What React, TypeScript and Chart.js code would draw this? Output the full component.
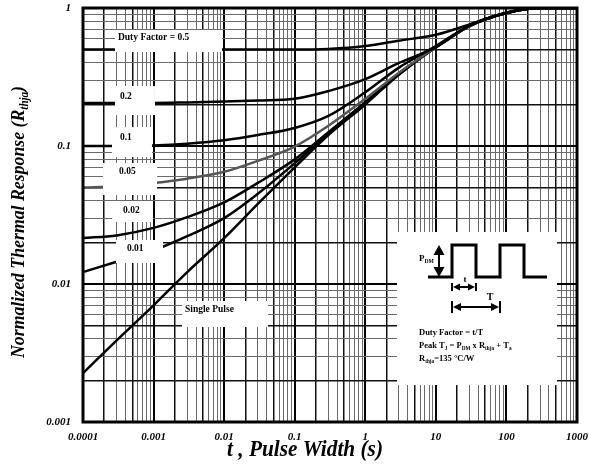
import React, { useEffect, useRef } from 'react';
import { Chart, registerables } from 'chart.js';

Chart.register(...registerables);

// ---------- data ----------
const pulseWidths = [1e-4, 3e-4, 1e-3, 3e-3, 1e-2, 3e-2, 0.1, 0.3, 1, 3, 10, 30, 100, 300, 1000];
const duty05 = [0.5, 0.5, 0.5, 0.5, 0.5, 0.5, 0.5, 0.505, 0.53, 0.58, 0.64, 0.76, 0.93, 1.0, 1.0];
const duty02 = [0.205, 0.205, 0.205, 0.207, 0.21, 0.214, 0.22, 0.25, 0.305, 0.4, 0.52, 0.745, 0.92, 1.0, 1.0];
const duty01 = [0.1, 0.1, 0.101, 0.104, 0.11, 0.12, 0.135, 0.165, 0.245, 0.37, 0.53, 0.745, 0.92, 1.0, 1.0];
const duty005 = [0.05, 0.051, 0.054, 0.058, 0.065, 0.078, 0.099, 0.14, 0.22, 0.34, 0.52, 0.74, 0.92, 1.0, 1.0];
const duty002 = [0.0215, 0.0225, 0.0255, 0.0305, 0.039, 0.054, 0.08, 0.126, 0.208, 0.335, 0.52, 0.74, 0.92, 1.0, 1.0];
const duty001 = [0.0122, 0.0145, 0.0175, 0.0222, 0.03, 0.045, 0.075, 0.122, 0.204, 0.33, 0.52, 0.74, 0.92, 1.0, 1.0];
const singlePulse = [0.00226, 0.0039, 0.007, 0.0122, 0.0215, 0.038, 0.07, 0.12, 0.2, 0.33, 0.52, 0.74, 0.92, 1.0, 1.0];

const seriesNames = ['Duty Factor = 0.5', '0.2', '0.1', '0.05', '0.02', '0.01', 'Single Pulse'];
const seriesValues = [duty05, duty02, duty01, duty005, duty002, duty001, singlePulse];
const seriesColors = ['#000', '#000', '#000', '#555', '#000', '#000', '#000'];

const xDecades = [1e-4, 1e-3, 1e-2, 0.1, 1, 10, 100, 1000];
const xTickLabels = ['0.0001', '0.001', '0.01', '0.1', '1', '10', '100', '1000'];
const yDecades = [0.001, 0.01, 0.1, 1];
const yTickLabels = ['0.001', '0.01', '0.1', '1'];

// label anchors in data space (t, r) with box offsets in px
const curveLabels = [
  { text: 'Duty Factor = 0.5', t: 3.13e-4, r: 0.606, box: [-3, -8, 107, 22] },
  { text: '0.2', t: 3.34e-4, r: 0.2265, box: [-5, -11, 40, 29] },
  { text: '0.1', t: 3.34e-4, r: 0.116, box: [-8, -10, 40, 30] },
  { text: '0.05', t: 3.24e-4, r: 0.0648, box: [-16, -9, 54, 32] },
  { text: '0.02', t: 3.69e-4, r: 0.0338, box: [-11, -10, 41, 21] },
  { text: '0.01', t: 4.2e-4, r: 0.01794, box: [-11, -9, 47, 23] },
  { text: 'Single Pulse', t: 2.79e-3, r: 0.00648, box: [-3, -9, 86, 26] },
];
const insetAnchor = { t: 2.815, r: 0.0238 };

const SERIF = "'Liberation Serif', 'Times New Roman', serif";

// ---------- helpers ----------
const mantissa = (v: number) => Math.round(v / Math.pow(10, Math.floor(Math.log10(v) + 1e-9)));
const gridTicks = (decades: number[]) => {
  const out: number[] = [];
  for (let i = 0; i < decades.length - 1; i++) {
    for (let m = 1; m <= 9; m++) out.push(Number((m * decades[i]).toPrecision(6)));
  }
  out.push(decades[decades.length - 1]);
  return out;
};
const labelFor = (decades: number[], labels: string[]) => (value: any) => {
  const v = Number(value);
  const i = decades.findIndex((d) => Math.abs(d - v) / d < 1e-6);
  return i >= 0 ? labels[i] : '';
};
const gridColor = (ctx: any) => {
  const m = mantissa(ctx.tick.value);
  if (m === 1) return '#000';
  if (m === 2 || m === 5) return '#111';
  return '#6a6a6a';
};
const gridWidth = (ctx: any) => {
  const m = mantissa(ctx.tick.value);
  if (m === 1) return 2;
  if (m === 2 || m === 5) return 1.5;
  return 1;
};

type Part = [string, boolean];
const richWidth = (ctx: CanvasRenderingContext2D, parts: Part[], size: number, pre: string) => {
  let w = 0;
  for (const [txt, sub] of parts) {
    ctx.font = `${pre} ${sub ? size * 0.62 : size}px ${SERIF}`;
    w += ctx.measureText(txt).width;
  }
  return w;
};
const drawRich = (ctx: CanvasRenderingContext2D, parts: Part[], x: number, y: number, size: number, pre: string) => {
  ctx.textAlign = 'left';
  ctx.textBaseline = 'alphabetic';
  let cx = x;
  for (const [txt, sub] of parts) {
    const s = sub ? size * 0.62 : size;
    ctx.font = `${pre} ${s}px ${SERIF}`;
    ctx.fillText(txt, cx, sub ? y + size * 0.22 : y);
    cx += ctx.measureText(txt).width;
  }
};
const arrowHead = (ctx: CanvasRenderingContext2D, x: number, y: number, dx: number, dy: number, len: number, half: number) => {
  const px = -dy, py = dx;
  ctx.beginPath();
  ctx.moveTo(x, y);
  ctx.lineTo(x - dx * len + px * half, y - dy * len + py * half);
  ctx.lineTo(x - dx * len - px * half, y - dy * len - py * half);
  ctx.closePath();
  ctx.fill();
};

const overlayPlugin = {
  id: 'overlay',
  afterDatasetsDraw(chart: any) {
    const { ctx, chartArea, scales } = chart;
    const xs = scales.x, ys = scales.y;
    ctx.save();
    // curve labels
    for (const lab of curveLabels) {
      const ax = xs.getPixelForValue(lab.t);
      const ay = ys.getPixelForValue(lab.r);
      const [bx, by, bw, bh] = lab.box;
      ctx.fillStyle = '#fff';
      ctx.fillRect(ax + bx, ay + by, bw, bh);
      ctx.fillStyle = '#000';
      ctx.font = `bold 9.5px ${SERIF}`;
      ctx.textAlign = 'left';
      ctx.textBaseline = 'middle';
      ctx.fillText(lab.text, ax, ay);
    }
    // inset
    const ix = xs.getPixelForValue(insetAnchor.t);
    const iy = ys.getPixelForValue(insetAnchor.r);
    ctx.fillStyle = '#fff';
    ctx.fillRect(ix, iy, 160, 153);
    ctx.strokeStyle = '#000';
    ctx.fillStyle = '#000';
    ctx.lineWidth = 3;
    ctx.lineJoin = 'miter';
    ctx.beginPath();
    ctx.moveTo(ix + 31, iy + 45);
    ctx.lineTo(ix + 55, iy + 45);
    ctx.lineTo(ix + 55, iy + 13);
    ctx.lineTo(ix + 79, iy + 13);
    ctx.lineTo(ix + 79, iy + 45);
    ctx.lineTo(ix + 103, iy + 45);
    ctx.lineTo(ix + 103, iy + 13);
    ctx.lineTo(ix + 127, iy + 13);
    ctx.lineTo(ix + 127, iy + 45);
    ctx.lineTo(ix + 150, iy + 45);
    ctx.stroke();
    // P_DM arrow
    ctx.lineWidth = 2;
    ctx.beginPath();
    ctx.moveTo(ix + 42, iy + 20);
    ctx.lineTo(ix + 42, iy + 38);
    ctx.stroke();
    arrowHead(ctx, ix + 42, iy + 13, 0, -1, 10, 5.5);
    arrowHead(ctx, ix + 42, iy + 45, 0, 1, 10, 5.5);
    drawRich(ctx, [['P', false], ['DM', true]], ix + 22, iy + 29, 9, 'bold');
    // t arrow
    ctx.lineWidth = 2;
    ctx.beginPath();
    ctx.moveTo(ix + 55, iy + 51); ctx.lineTo(ix + 55, iy + 59);
    ctx.moveTo(ix + 79, iy + 51); ctx.lineTo(ix + 79, iy + 59);
    ctx.moveTo(ix + 58, iy + 55); ctx.lineTo(ix + 76, iy + 55);
    ctx.stroke();
    arrowHead(ctx, ix + 56, iy + 55, -1, 0, 7, 3.5);
    arrowHead(ctx, ix + 78, iy + 55, 1, 0, 7, 3.5);
    ctx.font = `bold 9px ${SERIF}`;
    ctx.textAlign = 'center';
    ctx.textBaseline = 'middle';
    ctx.fillText('t', ix + 68, iy + 48);
    // T arrow
    ctx.beginPath();
    ctx.moveTo(ix + 55, iy + 69); ctx.lineTo(ix + 55, iy + 81);
    ctx.moveTo(ix + 103, iy + 69); ctx.lineTo(ix + 103, iy + 81);
    ctx.moveTo(ix + 58, iy + 75); ctx.lineTo(ix + 100, iy + 75);
    ctx.stroke();
    arrowHead(ctx, ix + 56, iy + 75, -1, 0, 8, 4);
    arrowHead(ctx, ix + 102, iy + 75, 1, 0, 8, 4);
    ctx.font = `bold 10px ${SERIF}`;
    ctx.textAlign = 'center';
    ctx.fillText('T', ix + 93, iy + 65);
    // inset texts
    drawRich(ctx, [['Duty Factor = t/T', false]], ix + 22, iy + 103, 8.5, 'bold');
    drawRich(ctx, [['Peak T', false], ['J', true], [' = P', false], ['DM', true], [' x R', false], ['thja', true], [' + T', false], ['a', true]], ix + 22, iy + 116, 8.5, 'bold');
    drawRich(ctx, [['R', false], ['thja', true], ['=135 °C/W', false]], ix + 22, iy + 129, 8.5, 'bold');
    // plot border
    ctx.lineWidth = 3;
    ctx.strokeStyle = '#000';
    ctx.strokeRect(chartArea.left, chartArea.top, chartArea.right - chartArea.left, chartArea.bottom - chartArea.top);
    ctx.restore();
  },
  afterDraw(chart: any) {
    const { ctx } = chart;
    ctx.save();
    ctx.fillStyle = '#000';
    const xParts: Part[] = [['t , Pulse Width (s)', false]];
    const xw = richWidth(ctx, xParts, 23, 'italic bold');
    ctx.translate(227, 456);
    ctx.scale(156 / xw, 1);
    drawRich(ctx, xParts, 0, 0, 23, 'italic bold');
    ctx.restore();
    ctx.save();
    ctx.fillStyle = '#000';
    const yParts: Part[] = [['Normalized Thermal Response (R', false], ['thja', true], [')', false]];
    const yw = richWidth(ctx, yParts, 19, 'italic bold');
    ctx.translate(24, 222);
    ctx.rotate(-Math.PI / 2);
    ctx.scale(272 / yw, 1);
    drawRich(ctx, yParts, -yw / 2, 0, 19, 'italic bold');
    ctx.restore();
  },
};

export default function App() {
  const ref = useRef<HTMLCanvasElement | null>(null);
  useEffect(() => {
    const canvas = ref.current;
    if (!canvas) return;
    const chart = new Chart(canvas, {
      type: 'line',
      data: {
        datasets: seriesValues.map((vals, i) => ({
          label: seriesNames[i],
          data: pulseWidths.map((t, j) => ({ x: t, y: vals[j] })),
          borderColor: seriesColors[i],
          borderWidth: 2.5,
          pointRadius: 0,
          fill: false,
          cubicInterpolationMode: 'monotone' as const,
        })),
      },
      options: {
        responsive: false,
        animation: false,
        events: [],
        layout: { padding: { top: 8, right: 13, left: 0, bottom: 0 } },
        plugins: { legend: { display: false }, tooltip: { enabled: false }, title: { display: false } },
        scales: {
          x: {
            type: 'logarithmic',
            min: 1e-4,
            max: 1000,
            afterBuildTicks: (scale: any) => {
              scale.ticks = gridTicks(xDecades).map((v) => ({ value: v }));
            },
            afterFit: (scale: any) => {
              scale.height = 42;
              scale.paddingLeft = 0;
              scale.paddingRight = 0;
            },
            grid: { color: gridColor, lineWidth: gridWidth, drawTicks: false },
            border: { display: false },
            ticks: {
              callback: labelFor(xDecades, xTickLabels),
              autoSkip: false,
              maxRotation: 0,
              minRotation: 0,
              padding: 9,
              color: '#000',
              font: { family: SERIF, size: 11, style: 'italic', weight: 'bold' },
            },
          },
          y: {
            type: 'logarithmic',
            min: 0.001,
            max: 1,
            afterBuildTicks: (scale: any) => {
              scale.ticks = gridTicks(yDecades).map((v) => ({ value: v }));
            },
            afterFit: (scale: any) => {
              scale.width = 83;
              scale.paddingTop = 0;
              scale.paddingBottom = 0;
            },
            grid: { color: gridColor, lineWidth: gridWidth, drawTicks: false },
            border: { display: false },
            ticks: {
              callback: labelFor(yDecades, yTickLabels),
              autoSkip: false,
              padding: 12,
              color: '#000',
              font: { family: SERIF, size: 11, style: 'italic', weight: 'bold' },
            },
          },
        },
      } as any,
      plugins: [overlayPlugin],
    });
    return () => chart.destroy();
  }, []);
  return (
    <div style={{ position: 'absolute', left: 0, top: 0, width: 590, height: 464, background: '#fff' }}>
      <canvas ref={ref} width={590} height={464} style={{ display: 'block' }} />
    </div>
  );
}
